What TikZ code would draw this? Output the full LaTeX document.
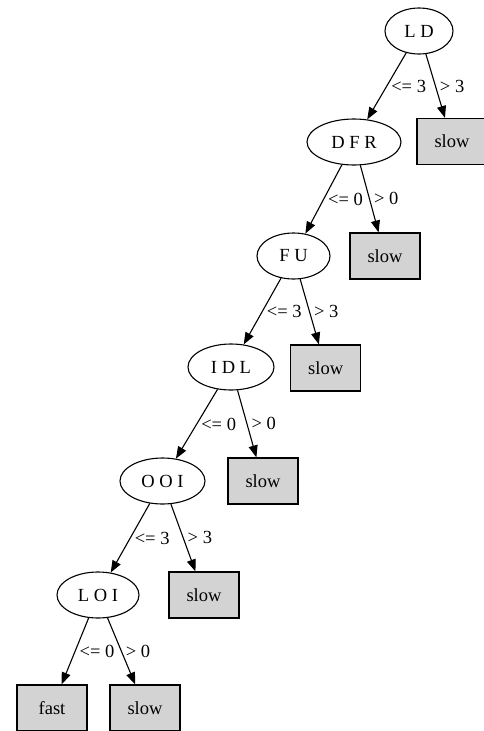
\documentclass[tikz,border=0pt]{standalone}
\usepackage{fontspec}
\setmainfont{Liberation Serif}
\usetikzlibrary{shapes.geometric,arrows.meta}
\tikzset{
  every node/.style={font=\fontsize{18.5}{22}\selectfont},
  split/.style={draw=black, line width=1.1pt, ellipse, inner sep=0pt, minimum height=46pt},
  leaf/.style={draw=black, line width=1.1pt, fill={rgb,255:red,211;green,211;blue,211}, rectangle, inner sep=0pt, minimum width=70pt, minimum height=46pt},
  edge/.style={line width=1.1pt, -{Triangle[length=12pt,width=9pt]}},
  lab/.style={anchor=west, inner sep=0pt, xshift=4pt}
}
\begin{document}
\begin{tikzpicture}[x=1pt,y=-1pt]
\useasboundingbox (0,0) rectangle (484,731);
\clip (0,0) rectangle (484,731);
\node[split, minimum width=68pt] (ld) at (419,31) {L D};
\node[split, minimum width=94pt] (dfr) at (354,142) {D F R};
\node[split, minimum width=73pt] (fu) at (293.5,256) {F U};
\node[split, minimum width=86pt] (idl) at (231,367) {I D L};
\node[split, minimum width=85pt] (ooi) at (162.5,481) {O O I};
\node[split, minimum width=82pt] (loi) at (98,595) {L O I};
\node[leaf] (s1) at (452,141.5) {slow};
\node[leaf] (s2) at (385,256) {slow};
\node[leaf] (s3) at (325.7,368) {slow};
\node[leaf] (s4) at (263,481) {slow};
\node[leaf] (s5) at (204,595) {slow};
\node[leaf] (f) at (52,708) {fast};
\node[leaf] (s6) at (145,708) {slow};
\draw[edge] (ld) -- node[lab] {<= 3} (dfr);
\draw[edge] (ld) -- node[lab] {> 3} (s1);
\draw[edge] (dfr) -- node[lab] {<= 0} (fu);
\draw[edge] (dfr) -- node[lab] {> 0} (s2);
\draw[edge] (fu) -- node[lab] {<= 3} (idl);
\draw[edge] (fu) -- node[lab] {> 3} (s3);
\draw[edge] (idl) -- node[lab] {<= 0} (ooi);
\draw[edge] (idl) -- node[lab] {> 0} (s4);
\draw[edge] (ooi) -- node[lab] {<= 3} (loi);
\draw[edge] (ooi) -- node[lab] {> 3} (s5);
\draw[edge] (loi) -- node[lab] {<= 0} (f);
\draw[edge] (loi) -- node[lab] {> 0} (s6);
\end{tikzpicture}
\end{document}
